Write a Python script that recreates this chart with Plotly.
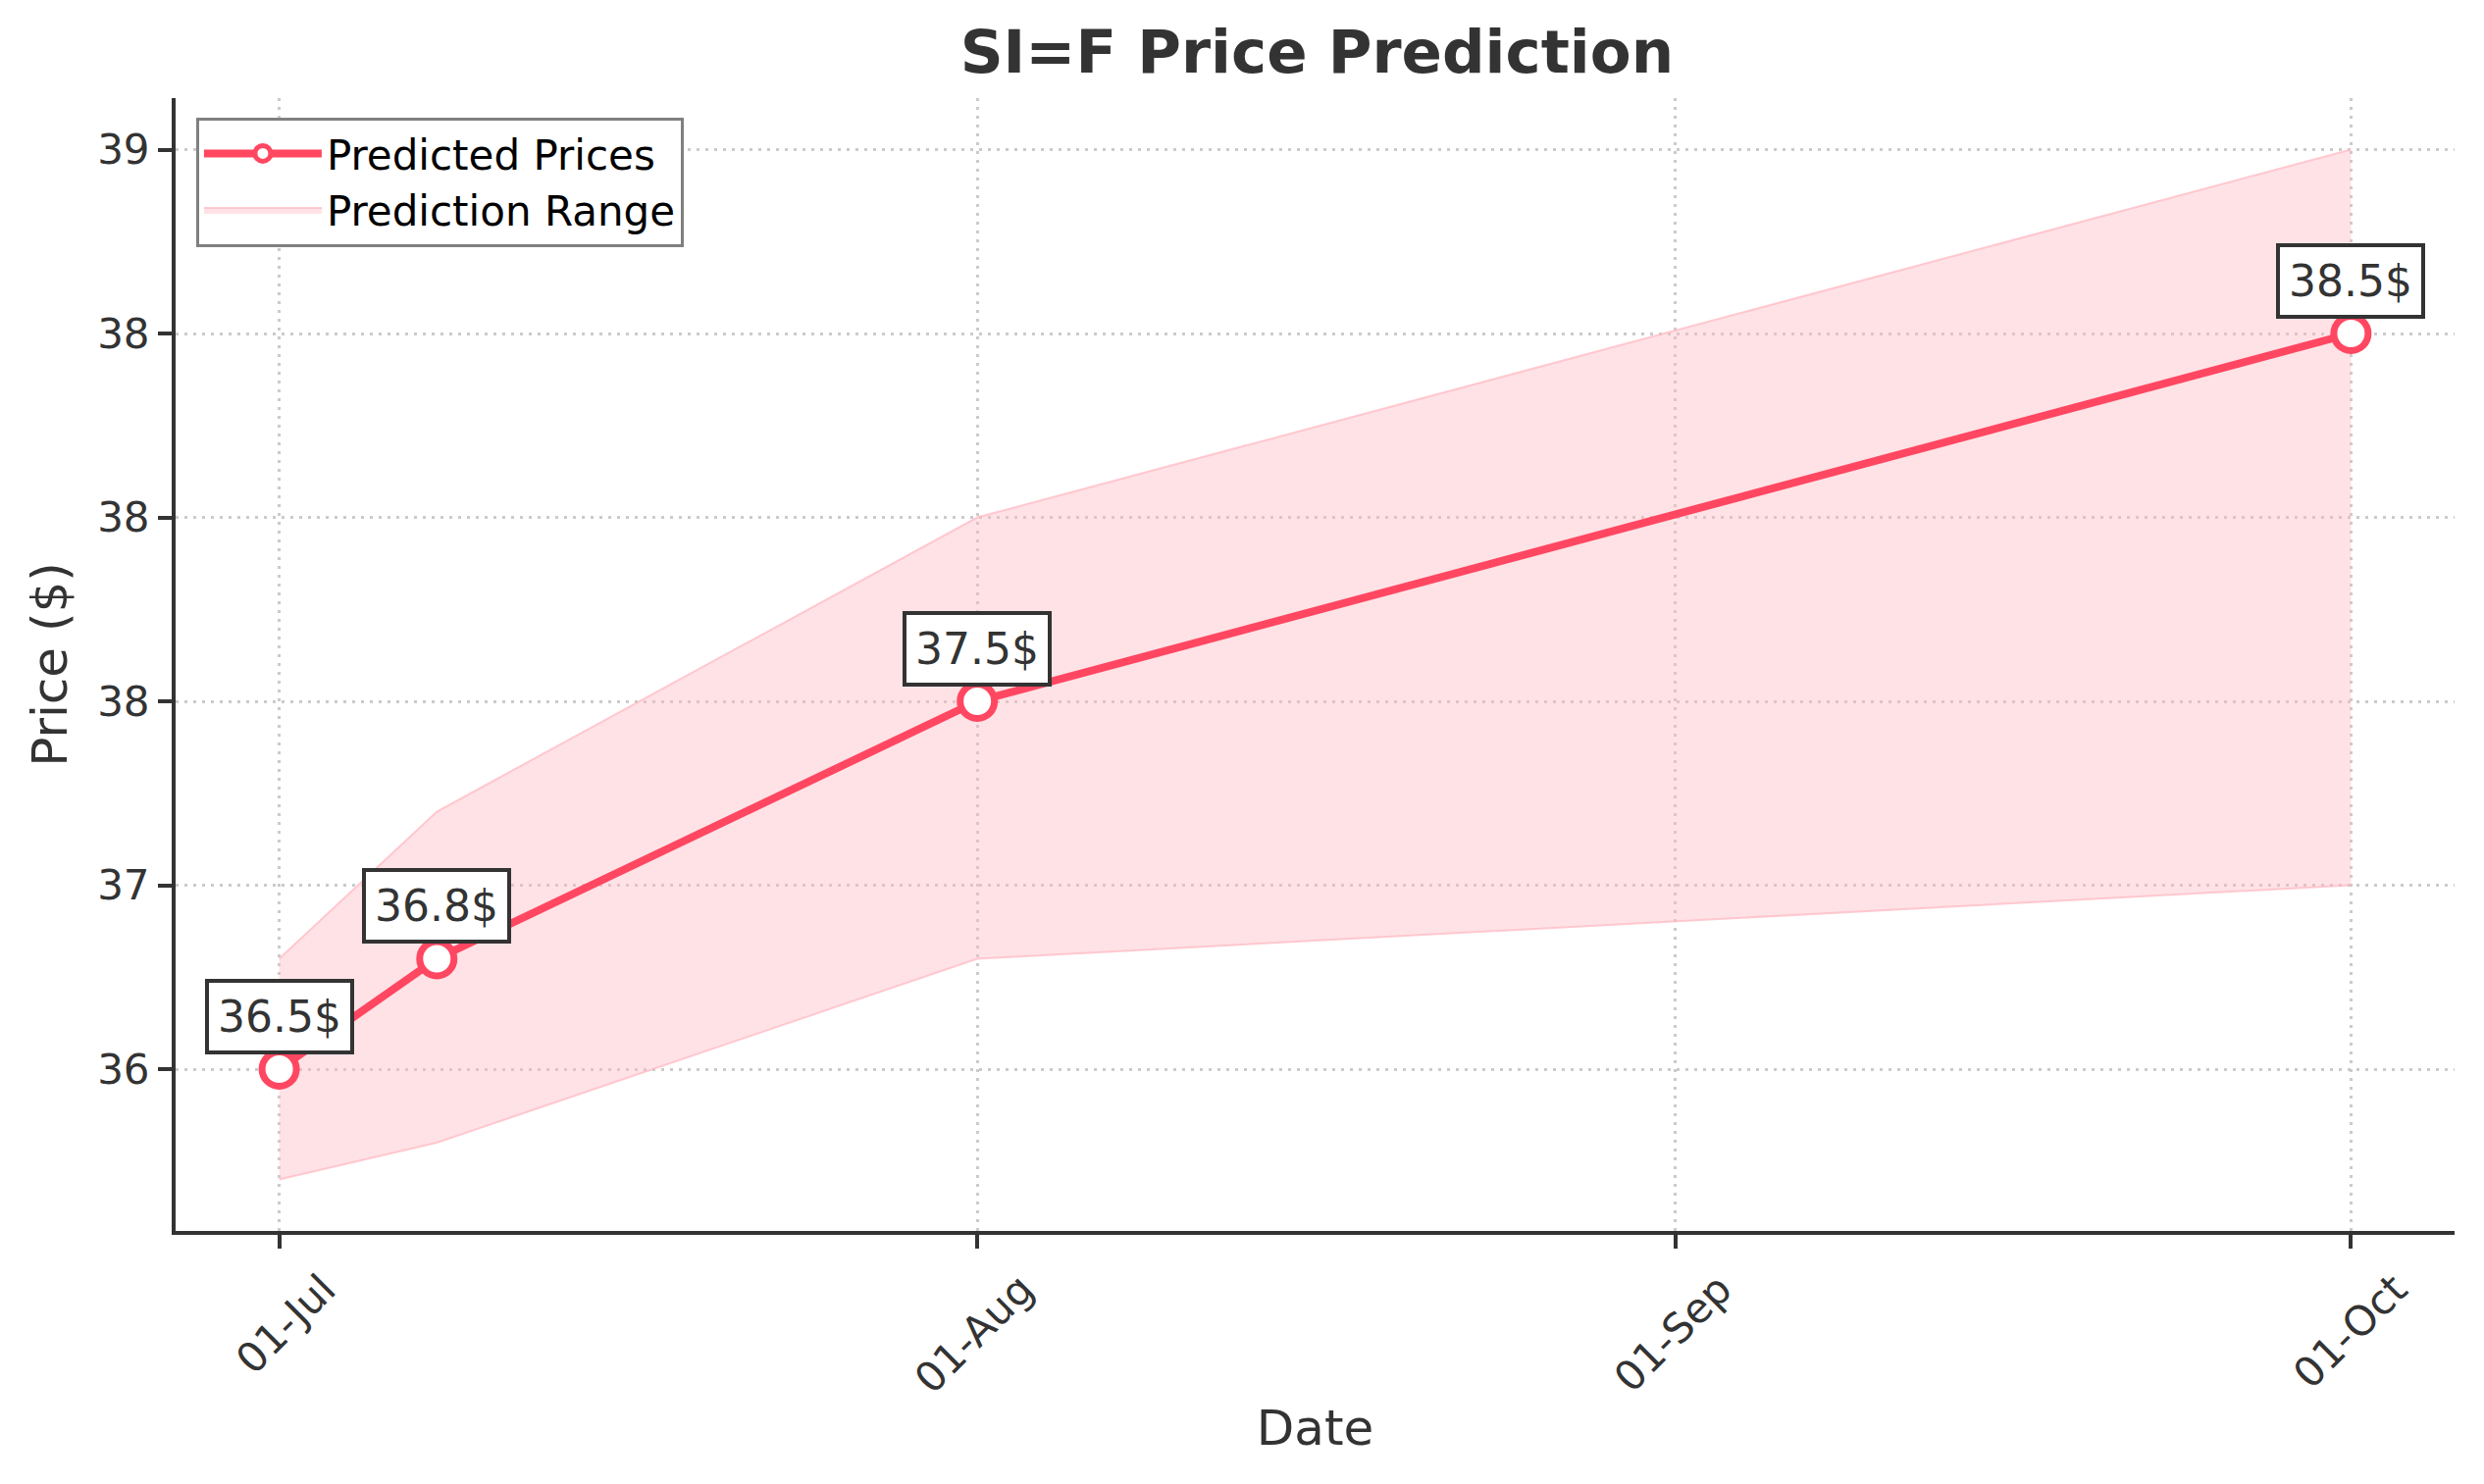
import plotly.graph_objects as go
import pandas as pd

# prediction data
dates = ["2025-07-01", "2025-07-08", "2025-08-01", "2025-10-01"]
predicted = [36.5, 36.8, 37.5, 38.5]
upper = [36.8, 37.2, 38.0, 39.0]
lower = [36.2, 36.3, 36.8, 37.0]
labels = ["36.5$", "36.8$", "37.5$", "38.5$"]

# matplotlib-ish y ticks (rounded labels)
y_tick_vals = [36.5, 37.0, 37.5, 38.0, 38.5, 39.0]
y_tick_text = ["36", "37", "38", "38", "38", "39"]
x_tick_dates = ["2025-07-01", "2025-08-01", "2025-09-01", "2025-10-01"]

x = pd.to_datetime(dates)
line_col = "rgb(255,71,97)"
txt_col = "#333333"
font = "DejaVu Sans"

# 5% margins like matplotlib
span = x[-1] - x[0]
x_range = [x[0] - span * 0.05, x[-1] + span * 0.05]
ylo, yhi = min(lower), max(upper)
y_range = [ylo - (yhi - ylo) * 0.05, yhi + (yhi - ylo) * 0.05]

fig = go.Figure()
fig.add_trace(go.Scatter(x=x, y=lower, mode="lines",
                         line=dict(color="rgba(255,182,193,0.7)", width=2),
                         showlegend=False, hoverinfo="skip"))
fig.add_trace(go.Scatter(x=x, y=upper, mode="lines", fill="tonexty",
                         fillcolor="rgba(255,182,193,0.4)",
                         line=dict(color="rgba(255,182,193,0.7)", width=2),
                         name="Prediction Range", legendrank=2))
fig.add_trace(go.Scatter(x=x, y=predicted, mode="lines+markers",
                         line=dict(color=line_col, width=8),
                         marker=dict(size=35, color="white",
                                     line=dict(color=line_col, width=7)),
                         name="Predicted Prices", legendrank=1))

for xi, yi, t in zip(x, predicted, labels):
    fig.add_annotation(x=xi, y=yi, text=t, showarrow=False,
                       yanchor="middle", yshift=54,
                       font=dict(family=font, size=44, color=txt_col),
                       bgcolor="white", bordercolor=txt_col,
                       borderwidth=4, borderpad=9)

axis_common = dict(showline=True, linecolor=txt_col, linewidth=4,
                   ticks="outside", ticklen=14, tickwidth=4, tickcolor=txt_col,
                   showgrid=True, gridcolor="rgba(190,190,190,0.8)",
                   gridwidth=3, griddash="3px,6px", zeroline=False,
                   tickfont=dict(family=font, size=42, color=txt_col),
                   automargin=False)

# page body adds ~8px offset, margins compensate
fig.update_layout(
    width=2532, height=1513,
    paper_bgcolor="white", plot_bgcolor="white",
    margin=dict(l=171, r=38, t=92, b=266),
    font=dict(family=font, color=txt_col),
    title=dict(text="<b>SI=F Price Prediction</b>", x=0.527, xanchor="center",
               y=1 - 45 / 1513, yanchor="middle", yref="container",
               font=dict(family=font, size=61, color=txt_col)),
    xaxis=dict(axis_common, range=x_range, type="date",
               tickvals=[pd.Timestamp(d) for d in x_tick_dates],
               tickformat="%d-%b", tickangle=-45, ticklabelshift=45,
               title=dict(text="Date", standoff=10,
                          font=dict(family=font, size=50, color=txt_col))),
    yaxis=dict(axis_common, range=y_range, tickvals=y_tick_vals,
               ticktext=y_tick_text,
               title=dict(text="Price ($)", standoff=16,
                          font=dict(family=font, size=50, color=txt_col))),
    legend=dict(x=0.009, y=0.983, xanchor="left", yanchor="top",
                traceorder="normal",
                bgcolor="white", bordercolor="#808080", borderwidth=3,
                font=dict(family=font, size=42, color="black"),
                itemwidth=120),
    showlegend=True,
)

fig.write_html("out.html")
